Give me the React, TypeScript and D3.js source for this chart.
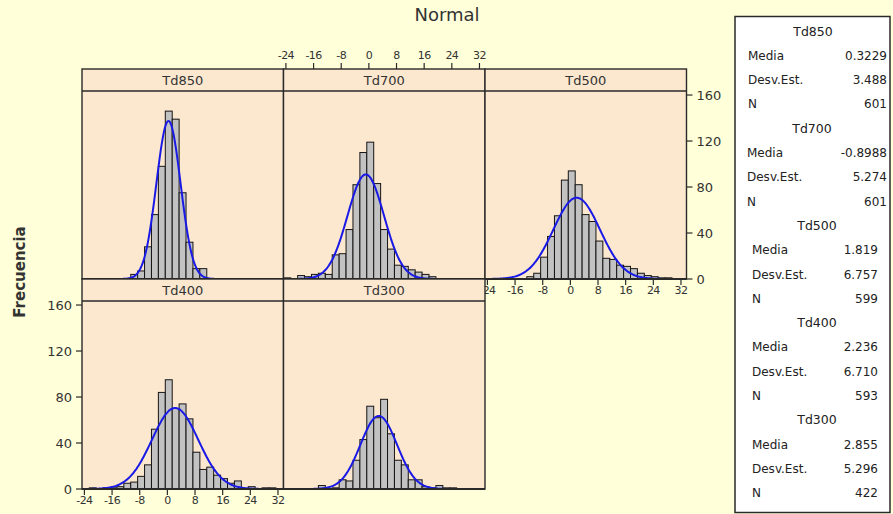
import React from 'react';
import * as d3 from 'd3';

// ---------- DATA ----------
const panelNames = ['Td850', 'Td700', 'Td500', 'Td400', 'Td300'];
const panelMeans = [0.3229, -0.8988, 1.819, 2.236, 2.855];
const panelSds = [3.488, 5.274, 6.757, 6.71, 5.296];
const panelNs = [601, 601, 599, 593, 422];
const meanLabels = ['0.3229', '-0.8988', '1.819', '2.236', '2.855'];
const sdLabels = ['3.488', '5.274', '6.757', '6.710', '5.296'];
const nLabels = ['601', '601', '599', '593', '422'];

// histogram bin midpoints (bin width 2)
const binMids = [-23.6, -21.6, -19.6, -17.6, -15.6, -13.6, -11.6, -9.6, -7.6, -5.6, -3.6, -1.6, 0.4, 2.4, 4.4, 6.4, 8.4, 10.4, 12.4, 14.4, 16.4, 18.4, 20.4, 22.4, 24.4, 26.4, 28.4, 30.4, 32.4];
const binWidth = 2;

const countsTd850 = [0, 0, 0, 0, 0, 0, 0, 4, 7, 28, 56, 98, 146, 139, 75, 32, 9, 9, 0, 0, 0, 0, 0, 0, 0, 0, 0, 0, 0];
const countsTd700 = [1, 0, 3, 2, 4, 5, 4, 21, 22, 43, 82, 110, 119, 83, 43, 26, 12, 11, 8, 6, 4, 2, 0, 0, 0, 0, 0, 0, 0];
const countsTd500 = [0, 0, 0, 0, 0, 0, 2, 5, 19, 37, 55, 86, 94, 82, 56, 50, 33, 18, 17, 12, 11, 9, 5, 3, 2, 1, 1, 0, 0];
const countsTd400 = [0, 1, 0, 1, 1, 2, 5, 6, 11, 21, 52, 84, 95, 70, 74, 61, 32, 17, 19, 12, 9, 5, 7, 0, 2, 0, 1, 1, 0];
const countsTd300 = [0, 0, 0, 0, 0, 3, 0, 1, 8, 7, 25, 43, 72, 62, 78, 48, 25, 21, 8, 8, 2, 1, 3, 1, 1, 0, 0, 0, 0];
const panelCounts = [countsTd850, countsTd700, countsTd500, countsTd400, countsTd300];

const xTicks = [-24, -16, -8, 0, 8, 16, 24, 32];
const yTicks = [0, 40, 80, 120, 160];

// ---------- LAYOUT ----------
const W = 893;
const H = 514;
const BG = '#FFFFD9';
const PANEL_BG = '#FCE7CF';
const FRAME = '#2a2a2a';
const FONT = '"DejaVu Sans", Verdana, sans-serif';

const colX = [82, 283.5, 485];
const panelW = 201.5;
const stripTop = [69, 279];
const stripH = 22;
const plotH = 188;
const xDomain: [number, number] = [-24.7, 33.6];
const yDomain: [number, number] = [0, 163.5];

function normalPdf(x: number, m: number, s: number) {
  return Math.exp(-0.5 * ((x - m) / s) ** 2) / (s * Math.sqrt(2 * Math.PI));
}

function Panel({ idx }: { idx: number }) {
  const col = idx % 3;
  const row = Math.floor(idx / 3);
  const x0 = colX[col];
  const sTop = stripTop[row];
  const pTop = sTop + stripH;
  const pBot = pTop + plotH;
  const xs = d3.scaleLinear().domain(xDomain).range([x0, x0 + panelW]);
  const ys = d3.scaleLinear().domain(yDomain).range([pBot, pTop]);
  const counts = panelCounts[idx];
  const m = panelMeans[idx];
  const s = panelSds[idx];
  const n = panelNs[idx];
  const curvePts = d3.range(0, 201).map((i) => {
    const x = m - 3.8 * s + (7.6 * s * i) / 200;
    return [x, n * binWidth * normalPdf(x, m, s)] as [number, number];
  });
  const line = d3
    .line<[number, number]>()
    .x((d) => xs(d[0]))
    .y((d) => ys(d[1]))
    .curve(d3.curveBasis);
  const clipId = `clip-${idx}`;
  return (
    <g>
      <defs>
        <clipPath id={clipId}>
          <rect x={x0} y={pTop} width={panelW} height={plotH} />
        </clipPath>
      </defs>
      <rect x={x0} y={sTop} width={panelW} height={stripH + plotH} fill={PANEL_BG} />
      <g clipPath={`url(#${clipId})`}>
        {counts.map((c, i) =>
          c > 0 ? (
            <rect
              key={i}
              x={xs(binMids[i] - binWidth / 2)}
              y={ys(c)}
              width={xs(binMids[i] + binWidth / 2) - xs(binMids[i] - binWidth / 2)}
              height={ys(0) - ys(c)}
              fill="#C2C2C2"
              stroke="#151515"
              strokeWidth={1}
            />
          ) : null
        )}
        <path d={line(curvePts) || ''} fill="none" stroke="#1a1ae6" strokeWidth={2} />
      </g>
      <rect x={x0} y={sTop} width={panelW} height={stripH + plotH} fill="none" stroke={FRAME} strokeWidth={1.4} />
      <line x1={x0} x2={x0 + panelW} y1={pTop} y2={pTop} stroke={FRAME} strokeWidth={1.4} />
      <line x1={x0} x2={x0 + panelW} y1={pBot} y2={pBot} stroke={FRAME} strokeWidth={2.2} />
      <text
        x={x0 + panelW / 2}
        y={sTop + stripH / 2 + 4.5}
        textAnchor="middle"
        fontSize={13}
        fontFamily={FONT}
        fill="#333"
      >
        {panelNames[idx]}
      </text>
    </g>
  );
}

function XAxis({ col, y, dir }: { col: number; y: number; dir: number }) {
  const x0 = colX[col];
  const xs = d3.scaleLinear().domain(xDomain).range([x0, x0 + panelW]);
  return (
    <g>
      {xTicks.map((t) => (
        <g key={t}>
          <line x1={xs(t)} x2={xs(t)} y1={y} y2={y + dir * 6} stroke={FRAME} strokeWidth={1.2} />
          <text
            x={xs(t)}
            y={dir > 0 ? y + 14.5 : y - 10}
            textAnchor="middle"
            fontSize={11}
            fontFamily={FONT}
            fill="#333"
            letterSpacing={-0.6}
          >
            {t}
          </text>
        </g>
      ))}
    </g>
  );
}

function YAxis({ row, x, dir }: { row: number; x: number; dir: number }) {
  const pBot = stripTop[row] + stripH + plotH;
  const ys = d3.scaleLinear().domain(yDomain).range([pBot, pBot - plotH]);
  return (
    <g>
      {yTicks.map((t) => (
        <g key={t}>
          <line x1={x} x2={x + dir * 6} y1={ys(t)} y2={ys(t)} stroke={FRAME} strokeWidth={1.2} />
          <text
            x={x + dir * 10}
            y={ys(t) + 4.5}
            textAnchor={dir < 0 ? 'end' : 'start'}
            fontSize={13}
            fontFamily={FONT}
            fill="#333"
          >
            {t}
          </text>
        </g>
      ))}
    </g>
  );
}

const legendLabelX = [748, 747, 752, 752, 752];
const legendValueX = [887, 887, 878, 878, 878];
const legendTitleX = [813, 812, 817, 817, 817];

function Legend() {
  const lineY = (i: number) => 31 + 24.3 * i;
  return (
    <g fontFamily={FONT} fontSize={12} fill="#222">
      <rect x={735} y={16.5} width={155} height={496} fill="#fff" stroke={FRAME} strokeWidth={1.5} />
      {panelNames.map((name, k) => {
        const base = k * 4;
        const rows = [
          ['Media', meanLabels[k]],
          ['Desv.Est.', sdLabels[k]],
          ['N', nLabels[k]],
        ];
        return (
          <g key={name}>
            <text x={legendTitleX[k]} y={lineY(base) + 4.5} textAnchor="middle" fontSize={12.5}>
              {name}
            </text>
            {rows.map((r, j) => (
              <g key={j}>
                <text x={legendLabelX[k]} y={lineY(base + 1 + j) + 4.5}>
                  {r[0]}
                </text>
                <text x={legendValueX[k]} y={lineY(base + 1 + j) + 4.5} textAnchor="end">
                  {r[1]}
                </text>
              </g>
            ))}
          </g>
        );
      })}
    </g>
  );
}

export default function App() {
  const row1Bot = stripTop[0] + stripH + plotH;
  const row2Bot = stripTop[1] + stripH + plotH;
  return (
    <svg
      width={W}
      height={H}
      style={{ position: 'absolute', left: 0, top: 0, display: 'block' }}
      xmlns="http://www.w3.org/2000/svg"
    >
      <rect x={0} y={0} width={W} height={H} fill={BG} />
      <text x={447} y={21} textAnchor="middle" fontSize={18} fontFamily={FONT} fill="#333">
        Normal
      </text>
      <text
        transform={`translate(25, 272) rotate(-90)`}
        textAnchor="middle"
        fontSize={15}
        fontWeight="bold"
        fontFamily={FONT}
        fill="#333"
      >
        Frecuencia
      </text>
      {/* axes drawn before panels so panels overlap where they do in the reference */}
      <XAxis col={2} y={row1Bot} dir={1} />
      <XAxis col={1} y={stripTop[0]} dir={-1} />
      {[0, 1, 2, 3, 4].map((i) => (
        <Panel key={i} idx={i} />
      ))}
      <YAxis row={0} x={colX[2] + panelW} dir={1} />
      <YAxis row={1} x={colX[0]} dir={-1} />
      <XAxis col={0} y={row2Bot} dir={1} />
      <Legend />
    </svg>
  );
}
